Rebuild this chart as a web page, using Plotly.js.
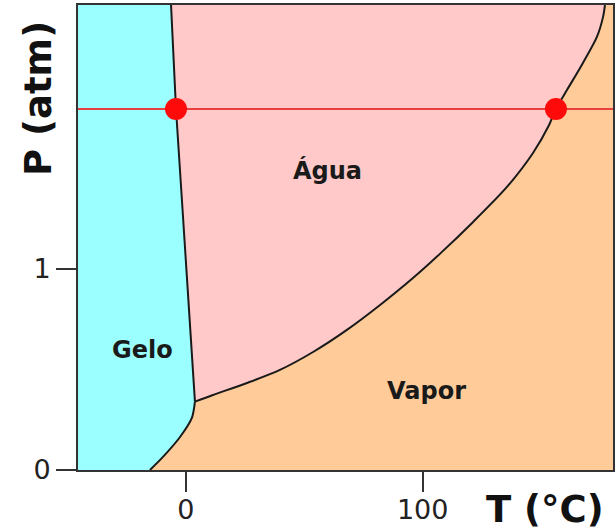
<!DOCTYPE html>
<html><head><meta charset="utf-8">
<script src="https://cdn.plot.ly/plotly-3.0.1.min.js"></script>
<style>html,body{margin:0;padding:0;background:#fff}</style>
</head><body><div id="chart" style="width:616px;height:532px"></div>
<script>
// Axis ranges and ticks
const xRange = [-45.6, 180.4];
const yRange = [0, 2.313];
const xTicks = [0, 100];
const yTicks = [0, 1];

// Solid/liquid boundary (top -> triple point)
const fusionT = [-6.3, -4.2, -1.7, 3.0, 3.8];
const fusionP = [2.313, 1.796, 1.343, 0.448, 0.340];

// Solid/vapour boundary (triple point -> bottom)
const subT = [3.8, 2.5, -2.5, -9.7, -15.2];
const subP = [0.340, 0.259, 0.164, 0.065, 0];

// Liquid/vapour boundary (triple point -> top)
const vapT = [3.8, 11.4, 25.8, 39.7, 53.7, 68.0, 82.0, 95.9, 107.7, 121.3, 135.6, 146.6, 153.4, 156.3, 161.0, 167.7, 173.6, 176.2, 177.0];
const vapP = [0.340, 0.373, 0.433, 0.498, 0.587, 0.697, 0.821, 0.955, 1.080, 1.234, 1.408, 1.577, 1.716, 1.796, 1.891, 2.025, 2.154, 2.254, 2.313];

// Isobar and its intersection points
const isobarP = 1.796;
const pointT = [-4.2, 156.3];
const pointP = [1.796, 1.796];

// Region labels
const regionLabels = ["Gelo", "Água", "Vapor"];
const regionT = [-18.2, 59.8, 101.8];
const regionP = [0.597, 1.49, 0.393];

const FONT = "DejaVu Sans, Verdana, sans-serif";

// Build polygons from the boundary arrays
const iceX = [xRange[0], xRange[0]].concat(fusionT, subT.slice(1));
const iceY = [yRange[0], yRange[1]].concat(fusionP, subP.slice(1));

const waterX = fusionT.concat(vapT.slice(1), [fusionT[0]]);
const waterY = fusionP.concat(vapP.slice(1), [fusionP[0]]);

const traces = [
  {x: iceX, y: iceY, type: 'scatter', mode: 'lines', fill: 'toself',
   fillcolor: '#9bffff', line: {width: 0}, hoverinfo: 'skip'},
  {x: waterX, y: waterY, type: 'scatter', mode: 'lines', fill: 'toself',
   fillcolor: '#ffc9c9', line: {width: 0}, hoverinfo: 'skip'},
  {x: [xRange[0], xRange[1]], y: [isobarP, isobarP], type: 'scatter', mode: 'lines',
   line: {color: '#e8403f', width: 2}},
  {x: fusionT, y: fusionP, type: 'scatter', mode: 'lines', line: {color: '#1a1a1a', width: 2}},
  {x: subT, y: subP, type: 'scatter', mode: 'lines', line: {color: '#1a1a1a', width: 2, shape: 'spline', smoothing: 0.8}},
  {x: vapT, y: vapP, type: 'scatter', mode: 'lines', line: {color: '#1a1a1a', width: 2, shape: 'spline', smoothing: 0.8}},
  {x: pointT, y: pointP, type: 'scatter', mode: 'markers',
   marker: {color: '#ff0a0a', size: 22, line: {width: 0}}}
];

const annotations = regionLabels.map((t, i) => ({
  x: regionT[i], y: regionP[i], xref: 'x', yref: 'y', text: t, showarrow: false,
  font: {family: FONT, size: 24, color: '#1a1a1a', weight: 'bold'},
  xanchor: 'center', yanchor: 'middle'
}));
annotations.push({
  x: -0.073, y: 0.80, xref: 'paper', yref: 'paper', text: 'P (atm)', textangle: -90,
  showarrow: false, xanchor: 'center', yanchor: 'middle',
  font: {family: FONT, size: 37, color: '#111', weight: 'bold'}
});
annotations.push({
  x: 0.873, y: -0.086, xref: 'paper', yref: 'paper', text: 'T (°C)',
  showarrow: false, xanchor: 'center', yanchor: 'middle',
  font: {family: FONT, size: 37, color: '#111', weight: 'bold'}
});

const axisCommon = {
  showgrid: false, zeroline: false, showline: true, mirror: true,
  linecolor: '#333', linewidth: 2,
  ticks: 'outside', ticklen: 20, tickwidth: 2, tickcolor: '#333',
  tickfont: {family: FONT, size: 27, color: '#222'}, fixedrange: true
};

const layout = {
  width: 616, height: 532,
  margin: {l: 78, r: 3, t: 5, b: 62},
  paper_bgcolor: '#ffffff', plot_bgcolor: '#ffcc99',
  showlegend: false,
  xaxis: Object.assign({}, axisCommon, {range: xRange, tickvals: xTicks, ticktext: xTicks.map(String), ticklabelstandoff: -5}),
  yaxis: Object.assign({}, axisCommon, {range: yRange, tickvals: yTicks, ticktext: yTicks.map(String), ticklabelstandoff: 0}),
  annotations: annotations
};

Plotly.newPlot('chart', traces, layout, {displayModeBar: false, staticPlot: true});
</script>
</body></html>
